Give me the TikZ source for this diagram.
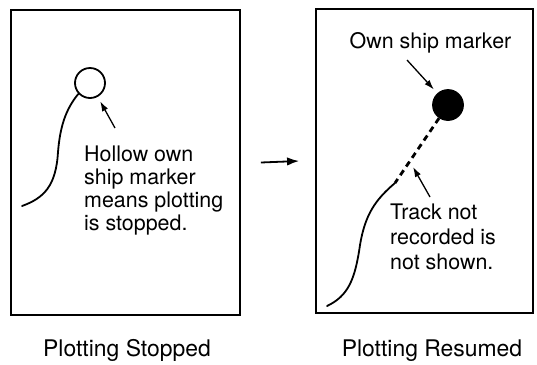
\documentclass[tikz,border=0pt]{standalone}
\usepackage{fontspec}
\setmainfont{TeX Gyre Heros}
\usepackage{xcolor}
\usepackage{tikz}
\usetikzlibrary{arrows.meta, positioning}
\definecolor{ink}{HTML}{000000}
\definecolor{paper}{HTML}{FFFFFF}
\tikzset{
  panel/.style={rectangle, draw=ink, line width=1.8bp, inner sep=0pt},
  marker/.style={circle, draw=ink, line width=1.8bp, minimum size=30bp,
                 inner sep=0pt},
  solidmarker/.style={marker, fill=ink},
  note/.style={align=left, inner sep=0pt, text=ink,
               font=\fontsize{21.5}{23}\selectfont},
  caption/.style={anchor=base, inner sep=0pt, text=ink,
                  font=\fontsize{23}{27}\selectfont},
  track/.style={draw=ink, line width=1.8bp, line cap=round},
  gapline/.style={draw=ink, line width=2.8bp, dash pattern=on 6bp off 4.5bp},
  pointer/.style={-{Latex[length=10bp, width=6.5bp]}, line width=1.3bp, draw=ink},
  bigpointer/.style={-{Latex[length=12bp, width=8.5bp]}, line width=1.8bp, draw=ink},
}

\begin{document}
\begin{tikzpicture}[x=1bp, y=-1bp]
  \useasboundingbox (0,0) rectangle (537,364);

  % ---- left panel: plotting stopped ----
  \node[panel, minimum width=229bp, minimum height=305bp] (stopbox) at (125.5,162.5) {};
  \node[marker] (hollow) at (90,83) {};
  \node[note, anchor=north west] (hollownote) at (84,146)
    {Hollow own\\ship marker\\means plotting\\is stopped.};
  \node[caption] (stopcap) at (127,356) {Plotting Stopped};
  \coordinate (hollowtail) at (115,128);

  \draw[track] (hollow.-137) .. controls (65,110) and (60,128) .. (58,152)
    .. controls (56,186) and (44,198) .. (22,206);
  \draw[pointer, shorten >=5bp] (hollowtail) -- (hollow);

  % ---- right panel: plotting resumed ----
  \node[panel, minimum width=217bp, minimum height=304bp] (resbox) at (424.5,161) {};
  \node[solidmarker] (ownship) at (448,105) {};
  \node[note, anchor=base] (ownnote) at (430.5,48) {Own ship marker};
  \node[note, anchor=north west, font=\fontsize{21.5}{25}\selectfont] (gapnote) at (390,204)
    {Track not\\recorded is\\not shown.};
  \node[caption] (rescap) at (432,356) {Plotting Resumed};
  \coordinate (trackstart) at (395,183);
  \coordinate (ownshiptail) at (407,60);
  \coordinate (gaptail) at (430,197);
  \coordinate (gaptip) at (413,167);

  \draw[gapline] (ownship) -- (trackstart);
  \draw[track] (trackstart) .. controls (375,200) and (365,215) .. (360,245)
    .. controls (355,280) and (348,296) .. (327,306);
  \draw[pointer, shorten >=5bp] (ownshiptail) -- (ownship);
  \draw[pointer] (gaptail) -- (gaptip);

  % ---- between the panels ----
  \draw[bigpointer] ([xshift=20bp]stopbox.east) -- ([xshift=-16bp]resbox.west);
\end{tikzpicture}
\end{document}
